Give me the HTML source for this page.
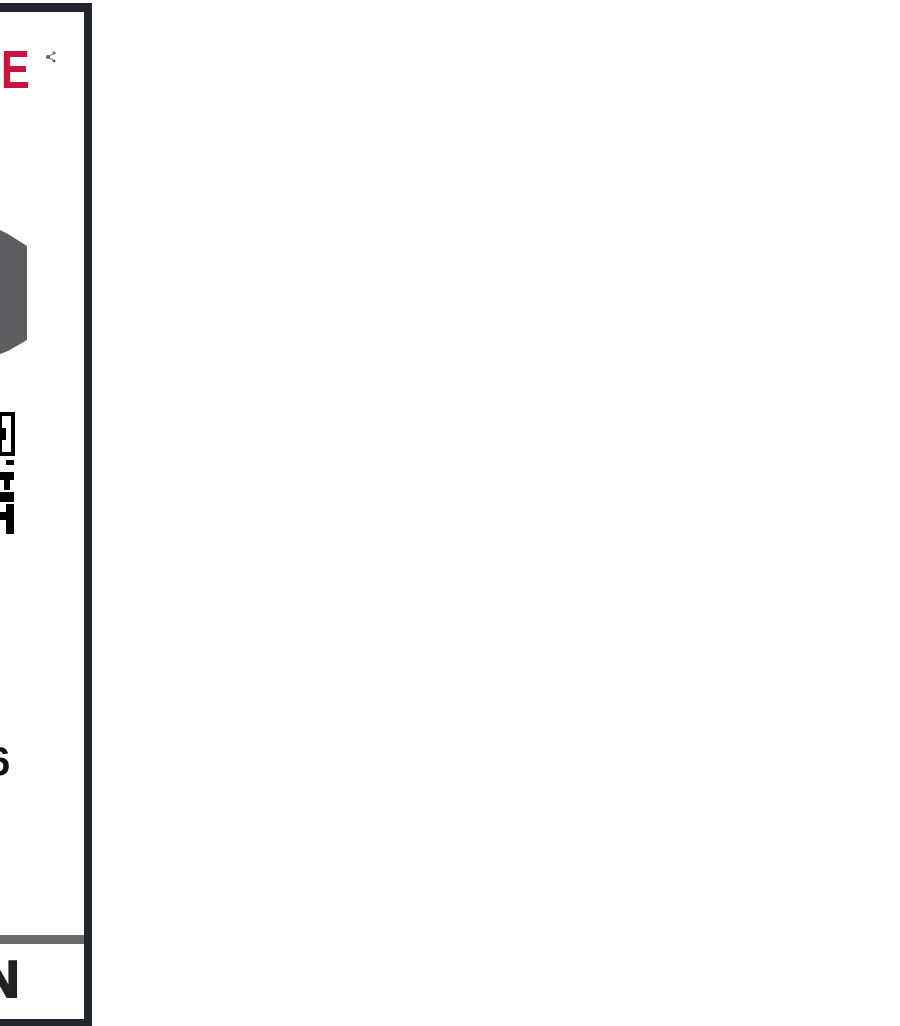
<!DOCTYPE html>
<html><head><style>
body{margin:0;width:900px;height:1026px;background:#fff;position:relative;overflow:hidden;font-family:"Liberation Sans",sans-serif}
.a{position:absolute}
</style></head><body>
<div class="a" style="left:0;top:3px;width:92px;height:9px;background:#23262b"></div>
<div class="a" style="left:84px;top:3px;width:8px;height:1023px;background:#23262b"></div>
<div class="a" style="left:0;top:1019px;width:92px;height:7px;background:#23262b"></div>
<div class="a" style="left:0;top:935px;width:84px;height:9px;background:#6a6a6a"></div>
<div class="a" style="left:1px;top:40px;font-size:54px;font-weight:bold;color:#c8133f;line-height:60px;transform:scaleX(.8);transform-origin:left">E</div>
<svg class="a" style="left:44px;top:50px" width="14" height="14"><circle cx="4" cy="7" r="2" fill="#666"/><circle cx="10" cy="3" r="1.5" fill="#666"/><circle cx="10" cy="11" r="1.5" fill="#666"/><path d="M4 7L10 3M4 7L10 11" stroke="#666"/></svg>
<svg class="a" style="left:0;top:230px" width="30" height="125"><polygon points="0,0 8,4 27,16 27,110 8,121 0,124" fill="#5e5e60"/></svg>
<svg class="a" style="left:0;top:412px" width="16" height="125">
<rect x="0" y="2" width="13" height="40" fill="none" stroke="#000" stroke-width="4"/>
<rect x="0" y="16" width="6" height="12" fill="#000"/>
<rect x="6" y="48" width="8" height="5" fill="#000"/>
<rect x="0" y="60" width="14" height="8" fill="#000"/>
<rect x="4" y="68" width="6" height="10" fill="#000"/>
<rect x="0" y="80" width="14" height="10" fill="#000"/>
<rect x="6" y="92" width="8" height="8" fill="#000"/>
<rect x="0" y="100" width="14" height="8" fill="#000"/>
<rect x="6" y="108" width="8" height="14" fill="#000"/>
</svg>
<div class="a" style="left:-12px;top:742px;font-size:40px;font-weight:bold;color:#111;line-height:40px">6</div>
<div class="a" style="left:-18px;top:952px;font-size:52px;font-weight:bold;color:#222;line-height:56px;-webkit-text-stroke:2px #222">N</div>
</body></html>
